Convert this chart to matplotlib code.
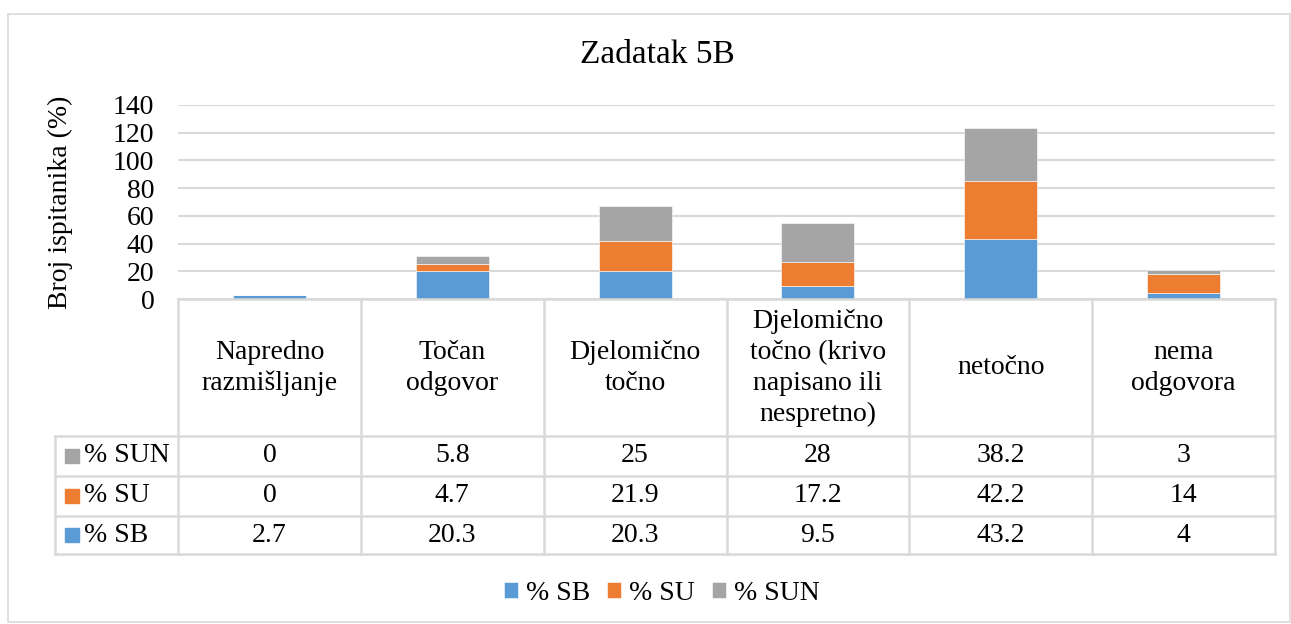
import matplotlib
matplotlib.use("Agg")
import matplotlib.pyplot as plt
from matplotlib.lines import Line2D
from matplotlib.patches import Rectangle
import numpy as np

plt.rcParams['font.family'] = ['Liberation Serif', 'DejaVu Serif']

categories = ["Napredno\nrazmišljanje", "Točan\nodgovor", "Djelomično\ntočno",
              "Djelomično\ntočno (krivo\nnapisano ili\nnespretno)", "netočno", "nema\nodgovora"]
series_names = ["% SB", "% SU", "% SUN"]
sb = [2.7, 20.3, 20.3, 9.5, 43.2, 4]
su = [0, 4.7, 21.9, 17.2, 42.2, 14]
sun = [0, 5.8, 25, 28, 38.2, 3]
sb_txt = ["2.7", "20.3", "20.3", "9.5", "43.2", "4"]
su_txt = ["0", "4.7", "21.9", "17.2", "42.2", "14"]
sun_txt = ["0", "5.8", "25", "28", "38.2", "3"]
colors = ["#5B9BD5", "#ED7D31", "#A5A5A5"]
yticks = [0, 20, 40, 60, 80, 100, 120, 140]

W, H = 1291, 624
fig = plt.figure(figsize=(W/100, H/100), dpi=100)

def fx(x):
    return x / W

def fy(y):
    return 1 - y / H

gridc = "#D9D9D9"
FS = 20

# outer border
fig.patches.append(Rectangle((fx(8), fy(622)), fx(1282), fy(14) - fy(622),
                             transform=fig.transFigure, fill=False, edgecolor=gridc, lw=1.2))

x0, x1, ytop, ybot = 178, 1275, 105, 299
ax = fig.add_axes([fx(x0), fy(ybot), fx(x1 - x0), fy(ytop) - fy(ybot)])
x = np.arange(len(categories))
bottom = np.zeros(len(categories))
for vals, c, n in zip([sb, su, sun], colors, series_names):
    ax.bar(x, vals, 0.4, bottom=bottom, color=c, label=n, zorder=3,
           edgecolor="white", linewidth=0.4)
    bottom += np.array(vals)
ax.set_xlim(-0.5, len(categories) - 0.5)
ax.set_ylim(0, 140)
ax.set_yticks(yticks)
ax.set_yticklabels([str(t) for t in yticks], fontsize=FS)
ax.tick_params(axis='y', length=0, pad=17)
ax.set_xticks([])
ax.grid(axis='y', color=gridc, lw=1.5, zorder=0)
for s in ax.spines.values():
    s.set_visible(False)
ax.set_ylabel("Broj ispitanika (%)", fontsize=FS)
ax.yaxis.set_label_coords(-0.096, 0.5)

fig.text(fx(657), fy(55), "Zadatak 5B", ha='center', va='center', fontsize=24)

# table
ncat = len(categories)
colw = (x1 - x0) / ncat
xs = [x0 + i * colw for i in range(ncat + 1)]
y_head_top, y_r1, y_r2, y_r3, y_end = 299, 436, 476, 516, 554
lx = 55

def hline(xa, xb, y):
    fig.add_artist(Line2D([fx(xa), fx(xb)], [fy(y), fy(y)], color=gridc, lw=1.8,
                          transform=fig.transFigure))

def vline(x, ya, yb):
    fig.add_artist(Line2D([fx(x), fx(x)], [fy(ya), fy(yb)], color=gridc, lw=1.8,
                          transform=fig.transFigure))

hline(x0, x1, y_head_top)
for y in [y_r1, y_r2, y_r3, y_end]:
    hline(lx, x1, y)
for xv in xs:
    vline(xv, y_head_top, y_end)
vline(lx, y_r1, y_end)

for i, cat in enumerate(categories):
    cx = (xs[i] + xs[i + 1]) / 2
    fig.text(fx(cx), fy(368), cat, ha='center', va='center', fontsize=FS,
             linespacing=1.32)

rows = [(series_names[2], sun_txt, colors[2]), (series_names[1], su_txt, colors[1]),
        (series_names[0], sb_txt, colors[0])]
row_bounds = [(y_r1, y_r2), (y_r2, y_r3), (y_r3, y_end)]
for (name, txts, c), (ya, yb) in zip(rows, row_bounds):
    cy = (ya + yb) / 2
    fig.patches.append(Rectangle((fx(65), fy(cy + 7)), fx(14), fy(cy - 7) - fy(cy + 7),
                                 transform=fig.transFigure, color=c))
    fig.text(fx(84), fy(cy), name, ha='left', va='center', fontsize=FS)
    for i, t in enumerate(txts):
        cx = (xs[i] + xs[i + 1]) / 2
        fig.text(fx(cx), fy(cy), t, ha='center', va='center', fontsize=FS)

handles, labels = ax.get_legend_handles_labels()
fig.legend(handles, labels, loc='center', bbox_to_anchor=(fx(662), fy(593)), ncol=3,
           frameon=False, fontsize=FS, handlelength=0.5, handleheight=0.5,
           handletextpad=0.3, columnspacing=0.6)

fig.savefig("out.png", dpi=100)
